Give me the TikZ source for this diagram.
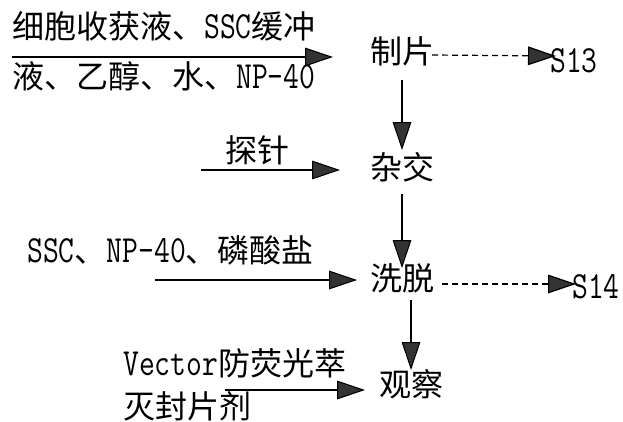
\documentclass[tikz,border=0pt]{standalone}
\usepackage{fontspec}
\setmainfont{Noto Sans CJK SC}
\newfontfamily\lat[Scale=1.2,FakeStretch=0.8]{Latin Modern Mono}
\usetikzlibrary{arrows.meta}
\begin{document}
\begin{tikzpicture}[x=0.75pt,y=-0.75pt,
  txt/.style={inner sep=0pt,font=\fontsize{24pt}{28pt}\selectfont,text height=0.86em,text depth=0.14em},
  lft/.style={txt,anchor=west},
  arr/.style={draw=black,line width=0.8pt,-{Triangle[length=21pt,width=14pt,fill=black!80]}},
  darr/.style={arr,line width=0.9pt,dash pattern=on 4.5pt off 3pt}]
\useasboundingbox[fill=white] (0,0) rectangle (623,421);
% nodes
\node[lft] (in1a) at (12,34) {细胞收获液、\lat SSC\normalfont 缓冲};
\node[lft] (in1b) at (12,84) {液、乙醇、水、\lat NP-40};
\node[txt] (zp) at (402,59) {制片};
\node[lft] (s13) at (550,68) {\lat S13};
\node[txt] (zj) at (402,175) {杂交};
\node[lft] (tz) at (225,158) {探针};
\node[txt] (xt) at (402,286) {洗脱};
\node[lft] (in3) at (27,258) {\lat SSC\normalfont 、\lat NP-40\normalfont 、磷酸盐};
\node[lft] (s14) at (572,294) {\lat S14};
\node[txt] (gc) at (411,392) {观察};
\node[lft] (in4a) at (123,371) {\lat Vector\normalfont 防荧光萃};
\node[lft] (in4b) at (123,414) {灭封片剂};
% connector ends
\coordinate (a1s) at (12,57);   \coordinate (a1e) at (333,57);
\coordinate (a2s) at (201,170); \coordinate (a2e) at (340,170);
\coordinate (a3s) at (155,280); \coordinate (a3e) at (357,280);
\coordinate (a4s) at (225,390); \coordinate (a4e) at (365,390);
\coordinate (v1s) at (402,80);  \coordinate (v1e) at (402,150);
\coordinate (v2s) at (402,194); \coordinate (v2e) at (402,268);
\coordinate (v3s) at (411,300); \coordinate (v3e) at (411,370);
\coordinate (d1s) at (432,55);  \coordinate (d1e) at (556,56);
\coordinate (d2s) at (442,284); \coordinate (d2e) at (576,284);
% connectors
\draw[arr] (a1s) -- (a1e);
\draw[arr] (a2s) -- (a2e);
\draw[arr] (a3s) -- (a3e);
\draw[arr] (a4s) -- (a4e);
\draw[arr] (v1s) -- (v1e);
\draw[arr] (v2s) -- (v2e);
\draw[arr] (v3s) -- (v3e);
\draw[darr] (d1s) -- (d1e);
\draw[darr] (d2s) -- (d2e);
\end{tikzpicture}
\end{document}
